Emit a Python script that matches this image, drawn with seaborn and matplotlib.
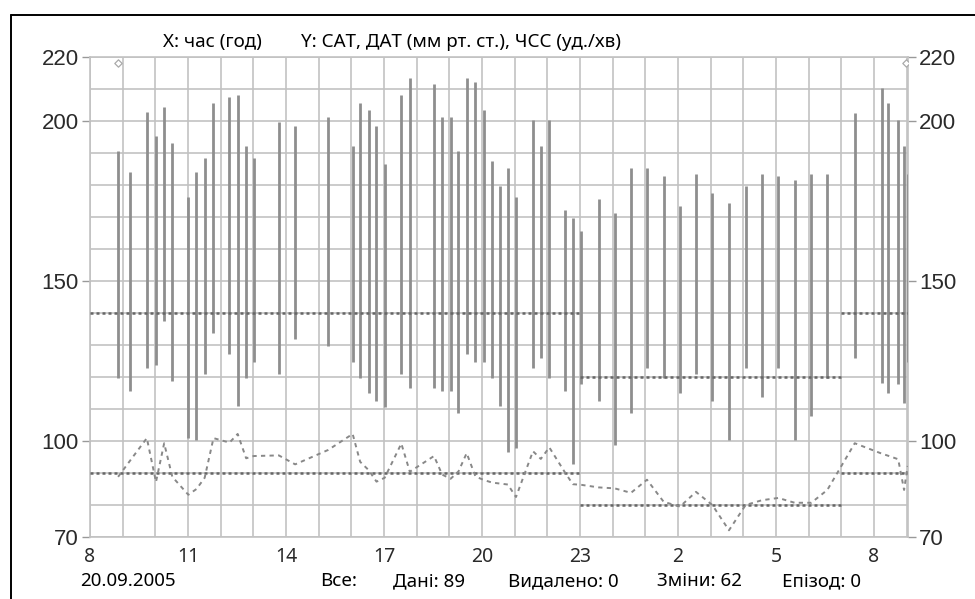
"""24-hour blood pressure monitoring chart (SBP/DBP bars, HR line)."""
import seaborn as sns
import matplotlib.pyplot as plt
from matplotlib.lines import Line2D

# measurement time, hours from midnight of 20.09 (values above 24 = next day)
hours = [8.86, 9.23, 9.74, 10.02, 10.27, 10.52, 11.01, 11.26, 11.51, 11.78,
         12.27, 12.52, 12.78, 13.01, 13.78, 14.28, 15.29, 16.04, 16.27,
         16.53, 16.77, 17.02, 17.53, 17.79, 18.53, 18.78, 19.04, 19.28, 19.53,
         19.80, 20.06, 20.31, 20.55,
         20.79, 21.04, 21.56, 21.80, 22.06, 22.55, 22.78, 23.04, 23.57, 24.06, 24.56,
         25.05, 25.56, 26.06, 26.55, 27.05, 27.56, 28.07, 28.57, 29.07,
         29.57, 30.08, 30.57, 31.41, 32.25, 32.43, 32.74, 32.92, 33.03]
sbp = [190.5, 184.2, 202.7, 195.4, 204.3, 193.1, 176.4, 184.2, 188.4, 205.6,
       207.4, 208.2, 192.3, 188.4, 199.6, 198.5, 201.4, 192.3, 205.6,
       203.3, 198.3, 186.5, 208.2, 213.4, 211.6, 201.4, 201.4, 190.5, 213.4,
       212.2, 203.3, 187.4, 179.7,
       185.3, 176.4, 200.2, 192.3, 200.2, 172.2, 169.6, 165.5, 175.6, 171.4, 185.3,
       185.3, 182.7, 173.5, 183.4, 177.5, 174.3, 179.7, 183.4, 182.7,
       181.6, 183.4, 183.4, 202.5, 210.3, 205.6, 200.2, 192.3, 183.4]
dbp = [119.6, 115.7, 122.9, 123.8, 137.6, 118.7, 100.8, 100.3, 120.8, 133.7,
       127.2, 110.9, 119.8, 124.6, 120.8, 131.8, 129.7, 124.6, 119.8,
       115.1, 112.5, 110.7, 120.8, 116.5, 116.5, 115.7, 115.7, 108.8, 127.1,
       124.8, 124.8, 119.8, 110.9,
       96.6, 97.7, 122.9, 125.8, 119.6, 115.7, 92.7, 117.7, 112.6, 98.9, 108.8,
       122.9, 119.8, 114.9, 120.9, 112.6, 100.3, 122.9, 113.8, 122.9,
       100.3, 107.9, 119.8, 125.8, 118.0, 114.9, 117.7, 112.0, 124.6]
hr = [88.8, 93.9, 100.9, 87.2, 99.3, 88.8, 83.2, 85.0, 88.5, 100.9,
      99.5, 102.2, 94.6, 95.3, 95.5, 92.7, 97.2, 102.2, 93.5,
      90.9, 87.3, 88.5, 99.2, 90.4, 95.3, 89.5, 88.2, 90.5, 96.2,
      88.9, 87.8, 87.0, 86.7,
      86.4, 82.5, 96.8, 94.4, 98.0, 90.0, 86.5, 86.3, 85.5, 85.2, 83.8,
      87.9, 81.0, 79.5, 84.1, 80.0, 72.1, 80.0, 81.5, 82.2,
      80.7, 80.7, 84.7, 99.3, 96.0, 95.4, 94.3, 84.7, 92.2]

# day / night limits
lim_start = [8, 23, 31]
lim_end = [23, 31, 33.04]
sbp_limit = [140, 120, 140]
dbp_limit = [90, 80, 90]

event_hours = [8.86, 32.99]
event_vals = [218.2, 218.2]

x_ticks = [8, 11, 14, 17, 20, 23, 26, 29, 32]
x_labels = ['8', '11', '14', '17', '20', '23', '2', '5', '8']
y_ticks = [70, 100, 150, 200, 220]

header_x = 'X: час (год)'
header_y = 'Y: САТ, ДАТ (мм рт. ст.), ЧСС (уд./хв)'
footer = [(80, '20.09.2005'), (320, 'Все:'), (393, 'Дані: 89'),
          (508, 'Видалено: 0'), (657, 'Зміни: 62'), (782, 'Епізод: 0')]

sns.set_theme(style='white')
plt.rcParams['font.family'] = ['Liberation Sans', 'DejaVu Sans']

W, H = 975, 599
fig = plt.figure(figsize=(W / 100, H / 100), dpi=100)
ax = fig.add_axes([90 / W, 62 / H, 818 / W, 480 / H])

grid_c = '#c2c2c2'
ax.set_xlim(8, 33.04)
ax.set_ylim(70, 220)
ax.set_xticks(x_ticks)
ax.set_xticklabels(x_labels)
ax.set_xticks(range(8, 34), minor=True)
ax.set_yticks(y_ticks)
ax.set_yticks(range(70, 221, 10), minor=True)
ax.grid(which='both', color=grid_c, lw=1.2)
ax.set_axisbelow(True)
for s in ax.spines.values():
    s.set_color(grid_c)
    s.set_linewidth(1.2)

ax.vlines(hours, dbp, sbp, color='#8e8e8e', lw=2.0, zorder=3)
ax.hlines(sbp_limit, lim_start, lim_end, color='#666666', lw=1.8,
          linestyles=(0, (1.2, 1.2)), zorder=4)
ax.hlines(dbp_limit, lim_start, lim_end, color='#666666', lw=1.8,
          linestyles=(0, (1.2, 1.2)), zorder=4)
sns.lineplot(x=hours, y=hr, ax=ax, color='#888888', lw=1.4, sort=False,
             estimator=None, linestyle=(0, (2.2, 2.2)), zorder=5)
sns.scatterplot(x=event_hours, y=event_vals, ax=ax, marker='D', s=14,
                facecolor='white', edgecolor='#aaaaaa', linewidth=0.9, zorder=6)

ax.set_xlabel('')
ax.set_ylabel('')
ax.tick_params(axis='y', which='major', length=6, width=1.0, color='#999999',
               labelsize=16, labelcolor='#2a2a2a', pad=2,
               left=True, right=True, labelleft=True, labelright=True)
ax.tick_params(axis='y', which='minor', length=0)
ax.tick_params(axis='x', which='both', length=0, pad=7,
               labelsize=14, labelcolor='#2a2a2a')
for t in ax.get_xticklabels():
    t.set_fontfamily('Noto Sans')

fig.text(163 / W, 1 - 42 / H, header_x, family='Noto Sans', fontsize=13.5,
         color='black', va='center', ha='left')
fig.text(301 / W, 1 - 42 / H, header_y, family='Noto Sans', fontsize=13.5,
         color='black', va='center', ha='left')
for x, txt in footer:
    fig.text(x / W, 1 - 581 / H, txt, family='Noto Sans', fontsize=13.5,
             color='black', va='center', ha='left')

# outer frame (top and left edges)
fig.add_artist(Line2D([11 / W, 11 / W], [0, 1 - 15 / H], color='black', lw=1.4))
fig.add_artist(Line2D([11 / W, 1], [1 - 15 / H, 1 - 15 / H], color='black', lw=1.4))

fig.savefig('out.png', dpi=100)
plt.close(fig)
